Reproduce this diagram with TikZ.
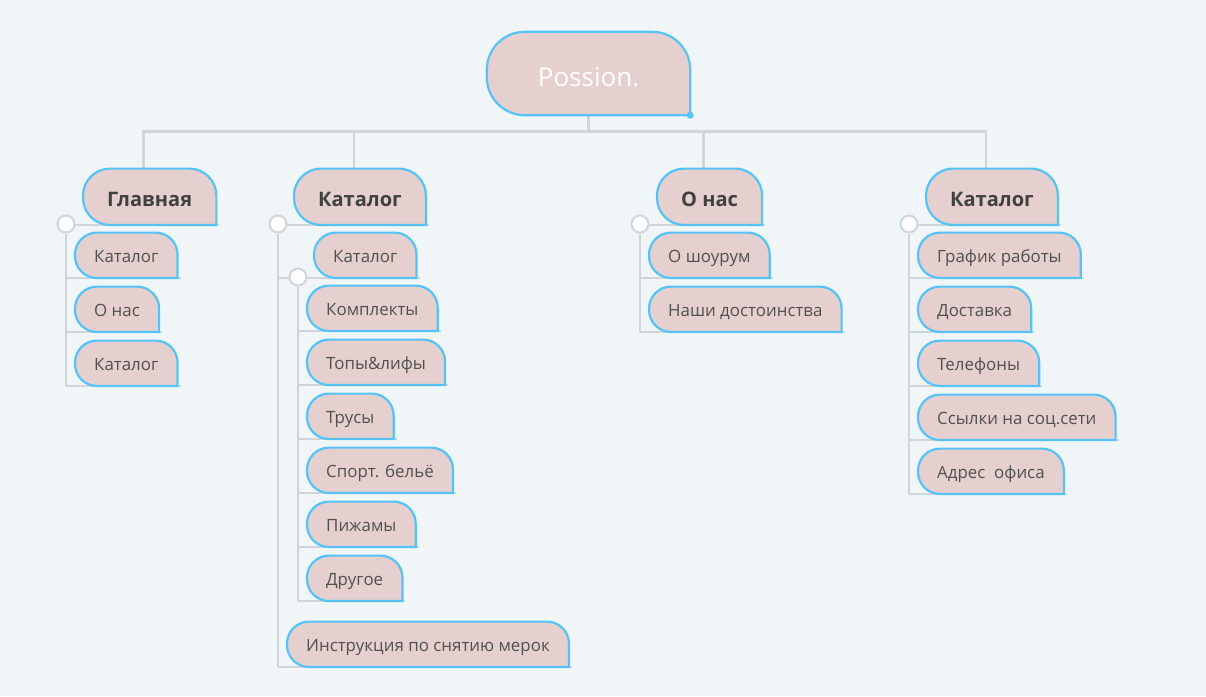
\documentclass[tikz,border=0pt]{standalone}
\usepackage{fontspec}
\setmainfont{Open Sans}
\definecolor{bgcol}{HTML}{F0F5F8}
\definecolor{boxfill}{HTML}{E6D0CF}
\definecolor{boxline}{HTML}{55C3F5}
\definecolor{linkcol}{HTML}{D0D5D9}
\definecolor{txt}{HTML}{505050}
\definecolor{txtdark}{HTML}{404040}
\pgfdeclarelayer{bg}
\pgfdeclarelayer{lk}
\pgfdeclarelayer{shp}
\pgfsetlayers{bg,lk,shp,main}

\begin{document}
\begin{tikzpicture}
  [x=1pt, y=-1pt,
   box/.style={fill=boxfill, draw=boxline, line width=2.2, line cap=rect},
   link/.style={draw=linkcol, line width=2.6},
   top/.style={anchor=south west, minimum height=56, inner xsep=24,
     text height=19, text depth=0,
     font=\fontsize{20}{24}\selectfont\bfseries, text=txtdark},
   sub/.style={anchor=south west, minimum height=45, inner xsep=19,
     text height=15, text depth=0,
     font=\fontsize{16.9}{20}\selectfont, text=txt},
   dot/.style={circle, draw=linkcol, line width=2, fill=white,
     minimum size=17, inner sep=0}]
  \useasboundingbox (0,0) rectangle (1206,696);
  \begin{pgfonlayer}{bg}
    \fill[bgcol] (0,0) rectangle (1206,696);
  \end{pgfonlayer}
  % root
  \node[minimum width=203, minimum height=83, text height=25, text depth=0,
    text=white, font=\fontsize{26}{31}\selectfont] (main) at (588.5,73.5) {Possion.};
  % first level
  \node[top] (glav) at (83,225) {Главная};
  \node[top] (kat) at (294,225) {Каталог};
  \node[top] (onas) at (657,225) {О нас};
  \node[top] (info) at (926,225) {Каталог};
  % Главная
  \node[sub] (g1) at (75,278) {Каталог};
  \node[sub] (g2) at (75,332) {О нас};
  \node[sub] (g3) at (75,386) {Каталог};
  % Каталог
  \node[sub] (k1) at (314,278) {Каталог};
  \foreach \t [count=\i] in {Комплекты, Топы\&лифы, Трусы, Спорт. бельё, Пижамы, Другое} {
      \node[sub] (ks\i) at (307,277+54*\i) {\t};
  }
  \node[sub] (k2) at (287,667) {Инструкция по снятию мерок};
  % О нас
  \node[sub] (o1) at (649,278) {О шоурум};
  \node[sub] (o2) at (649,332) {Наши достоинства};
  % Каталог (right)
  \foreach \t [count=\i] in {График работы, Доставка, Телефоны, Ссылки на соц.сети, Адрес\ \ офиса} {
      \node[sub] (i\i) at (918,224+54*\i) {\t};
  }
  % knots
  \node[dot] (gdot) at (66,224) {};
  \node[dot] (kdot) at (278,224) {};
  \node[dot] (ksdot) at (298,277) {};
  \node[dot] (odot) at (640,224) {};
  \node[dot] (idot) at (909,224) {};
  \fill[boxline] (main.south east) circle (3.5);
  % boxes
  \begin{pgfonlayer}{shp}
    \foreach \n/\r in {main/38,glav/27,kat/27,onas/27,info/27} {
        \draw[box] (\n.south east) [rounded corners=\r] -- (\n.south west)
          -- (\n.north west) -- (\n.north east) -- (\n.south east);
    }
    \foreach \n in {g1,g2,g3,k1,k2,ks1,ks2,ks3,ks4,ks5,ks6,o1,o2,i1,i2,i3,i4,i5} {
        \draw[box] (\n.south east) [rounded corners=22] -- (\n.south west)
          -- (\n.north west) -- (\n.north east) -- (\n.south east);
    }
  \end{pgfonlayer}
  % edges
  \begin{pgfonlayer}{lk}
    \draw[link] (main.south) -- ++(0,16) coordinate (bus);
    \foreach \n in {glav,kat,onas,info} {
        \draw[link] (bus) -| ([xshift=-6]\n.north);
    }
    \draw[link] (gdot) -- (gdot |- g3.south);
    \foreach \n in {glav,g1,g2,g3} {
        \draw[link] (gdot |- \n.south) -- ([xshift=3]\n.south east);
    }
    \draw[link] (kdot) -- (kdot |- k2.south);
    \foreach \n in {kat,k1,k2} {
        \draw[link] (kdot |- \n.south) -- ([xshift=3]\n.south east);
    }
    \draw[link] (ksdot) -- (ksdot |- ks6.south);
    \foreach \n in {ks1,ks2,ks3,ks4,ks5,ks6} {
        \draw[link] (ksdot |- \n.south) -- ([xshift=3]\n.south east);
    }
    \draw[link] (odot) -- (odot |- o2.south);
    \foreach \n in {onas,o1,o2} {
        \draw[link] (odot |- \n.south) -- ([xshift=3]\n.south east);
    }
    \draw[link] (idot) -- (idot |- i5.south);
    \foreach \n in {info,i1,i2,i3,i4,i5} {
        \draw[link] (idot |- \n.south) -- ([xshift=3]\n.south east);
    }
  \end{pgfonlayer}
\end{tikzpicture}
\end{document}
